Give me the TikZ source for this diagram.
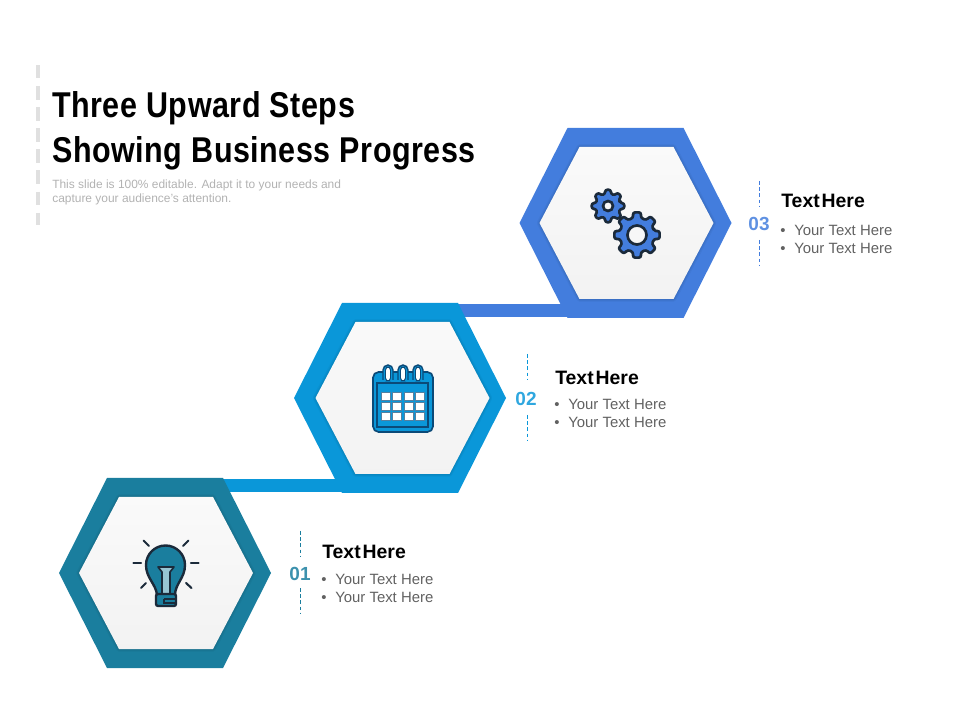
\documentclass[tikz,border=0pt]{standalone}
\usepackage{fontspec}
\setmainfont{Liberation Sans}
\newfontfamily\titlefont[FakeStretch=0.85,LetterSpace=1.5]{Liberation Sans}
\usetikzlibrary{positioning}

\definecolor{stepone}{HTML}{1A7E9E}
\definecolor{steptwo}{HTML}{0A97D9}
\definecolor{stepthree}{HTML}{437DDD}
\definecolor{iconline}{HTML}{1B2A3A}
\definecolor{calline}{HTML}{0B4A78}

\newcommand{\bulletline}{\makebox[9.96pt][l]{•}Your Text Here}

\tikzset{
	titletext/.style={anchor=base west,inner sep=0pt,font=\titlefont\bfseries\fontsize{25.5}{30}\selectfont,text=black},
	subtext/.style={anchor=base west,inner sep=0pt,font=\fontsize{8.5}{10}\selectfont,text=black!30},
	headtext/.style={anchor=base west,inner sep=0pt,font=\bfseries\fontsize{13.8}{15}\selectfont,text=black},
	bodytext/.style={anchor=base west,inner sep=0pt,font=\fontsize{10.6}{12}\selectfont,text=black!62},
	numtext/.style={inner sep=0pt,font=\bfseries\fontsize{13.5}{15}\selectfont},
	stepdash/.style={line width=0.7pt,dash pattern=on 2.6pt off 1.8pt},
	linkbar/.style={line width=9.6pt},
	ray/.style={iconline,line width=1.5pt,line cap=round},
	geartooth/.style={draw=iconline,fill=stepthree,line width=1.9pt,rounded corners=1.6pt,line join=round}
}

\begin{document}
\begin{tikzpicture}[x=0.025cm,y=-0.025cm]
	\useasboundingbox (0,0) rectangle (960,720);
%	left rule
	\path (38,65) coordinate (rule_t);
	\path (38,225) coordinate (rule_b);
	\draw[black!12,line width=2.4pt,dash pattern=on 9.6pt off 5.4pt] (rule_t) -- (rule_b);

%	heading
	\node[titletext] (title1) at (52,118) {Three Upward Steps};
	\node[titletext] (title2) at (52,163) {Showing Business Progress};
	\node[subtext] (sub1) at (52,189) {This slide is 100\% editable. Adapt it to your needs and};
	\node[subtext] (sub2) at (52,203) {capture your audience's attention.};

%	end points of the two links
	\path (222,485.5) coordinate (link1_l);
	\path (345,485.5) coordinate (link1_r);
	\path (455,310.5) coordinate (link2_l);
	\path (575,310.5) coordinate (link2_r);
	\draw[linkbar,steptwo] (link1_l) -- (link1_r);
	\draw[linkbar,stepthree] (link2_l) -- (link2_r);

%	hexagons
	\foreach \n/\cx/\cy/\col/\ix in {a/165/573/stepone/166,b/400/398/steptwo/402.5,c/625.5/223/stepthree/626.5} {
		\fill[\col] (\cx-106,\cy) -- (\cx-58,\cy-95) -- (\cx+58,\cy-95) -- (\cx+106,\cy)
			-- (\cx+58,\cy+95) -- (\cx-58,\cy+95) -- cycle;
		\foreach \w/\o in {4/0.03,2.5/0.04,1.2/0.04}
			\draw[black,opacity=\o,line width=\w pt,line join=round] (\ix-87,\cy) -- (\ix-47,\cy-76) -- (\ix+47,\cy-76) -- (\ix+87,\cy)
				-- (\ix+47,\cy+76) -- (\ix-47,\cy+76) -- cycle;
		\shade[top color=black!2,bottom color=black!5] (\ix-87,\cy) -- (\ix-47,\cy-76) -- (\ix+47,\cy-76) -- (\ix+87,\cy)
			-- (\ix+47,\cy+76) -- (\ix-47,\cy+76) -- cycle;
	}

%	bulb
	\foreach \xa/\ya/\xb/\yb in {133.5/563/141/563,191/563/198.5/563,143.5/540.5/149/546,183/546/188.5/540.5,141/588/146/583,186/583/191.5/588}
		\draw[ray] (\xa,\ya) -- (\xb,\yb);
	\draw[fill=stepone,draw=iconline,line width=1.7pt,line join=round] (157,595) .. controls (156,584) and (146,578) .. (146,565)
		arc[start angle=180,end angle=360,radius=19.5] .. controls (185,578) and (175,584) .. (175,595) -- cycle;
	\draw[fill=stepone!45,draw=iconline,line width=1.2pt,line join=round] (158,567) -- (174,567) -- (170,572) -- (170,594) -- (162,594) -- (162,572) -- cycle;
	\draw[fill=stepone,draw=iconline,line width=1.7pt,rounded corners=1.5pt] (156,594) rectangle (176,606);
	\draw[iconline,line width=1.2pt] (164,599) -- (176,599);
	\draw[iconline,line width=1.2pt] (164,599) -- (164,603) -- (176,603);

%	calendar
	\draw[fill=steptwo,draw=calline,line width=1.2pt,rounded corners=4pt] (373,372) rectangle (433,432);
	\draw[draw=calline,line width=1pt] (377,383) rectangle (428,427);
	\foreach \cxx in {381,392.5,404,415}
		\foreach \cyy in {392,402,412}
			\fill[white,draw=calline!70,line width=0.4pt] (\cxx,\cyy) rectangle (\cxx+8.8,\cyy+8);
	\foreach \rx in {388,403,418} {
		\draw[fill=steptwo,draw=calline,line width=1pt] (\rx-5,380) -- (\rx-5,370) arc[start angle=180,end angle=360,radius=5] -- (\rx+5,380);
		\draw[fill=white,draw=calline,line width=0.7pt,rounded corners=2.2pt] (\rx-2.5,367) rectangle (\rx+2.5,381);
	}

%	gears
	\foreach \gx/\gy/\ro/\ri/\rh in {637/235/23/17.5/9.5,608/206/16.5/12.5/5} {
		\draw[geartooth] (\gx,\gy) ++(-13:\ri)
			\foreach \t in {0,45,...,315} {
				-- ([shift={(\gx,\gy)}]\t-13:\ri) -- ([shift={(\gx,\gy)}]\t-10:\ro) -- ([shift={(\gx,\gy)}]\t+10:\ro) -- ([shift={(\gx,\gy)}]\t+13:\ri)
			} -- cycle;
		\draw[fill=black!3,draw=iconline,line width=1.9pt] (\gx,\gy) circle[radius=\rh];
	}

%	first step
	\path (300,531) coordinate (dash1_a);
	\path (300,557) coordinate (dash1_b);
	\path (300,588) coordinate (dash1_c);
	\path (300,614) coordinate (dash1_d);
	\draw[stepdash,stepone] (dash1_a) -- (dash1_b);
	\draw[stepdash,stepone] (dash1_c) -- (dash1_d);
	\node[numtext,text=stepone!85] (num1) at (300,573.5) {01};
	\node[headtext] (head1) at (322,558.5) {Text\hspace{0.1em}Here};
	\node[bodytext] (line1a) at (321,584) {\bulletline};
	\node[bodytext] (line1b) at (321,602) {\bulletline};

%	second step
	\path (527,354) coordinate (dash2_a);
	\path (527,380) coordinate (dash2_b);
	\path (527,415) coordinate (dash2_c);
	\path (527,441) coordinate (dash2_d);
	\draw[stepdash,steptwo] (dash2_a) -- (dash2_b);
	\draw[stepdash,steptwo] (dash2_c) -- (dash2_d);
	\node[numtext,text=steptwo!85] (num2) at (526,398.5) {02};
	\node[headtext] (head2) at (555,384.5) {Text\hspace{0.1em}Here};
	\node[bodytext] (line2a) at (554,410) {\bulletline};
	\node[bodytext] (line2b) at (554,428) {\bulletline};

%	third step
	\path (759,181) coordinate (dash3_a);
	\path (759,207) coordinate (dash3_b);
	\path (759,240) coordinate (dash3_c);
	\path (759,266) coordinate (dash3_d);
	\draw[stepdash,stepthree] (dash3_a) -- (dash3_b);
	\draw[stepdash,stepthree] (dash3_c) -- (dash3_d);
	\node[numtext,text=stepthree!85] (num3) at (759,223.5) {03};
	\node[headtext] (head3) at (781,207.5) {Text\hspace{0.1em}Here};
	\node[bodytext] (line3a) at (780,236) {\bulletline};
	\node[bodytext] (line3b) at (780,254) {\bulletline};
\end{tikzpicture}
\end{document}
